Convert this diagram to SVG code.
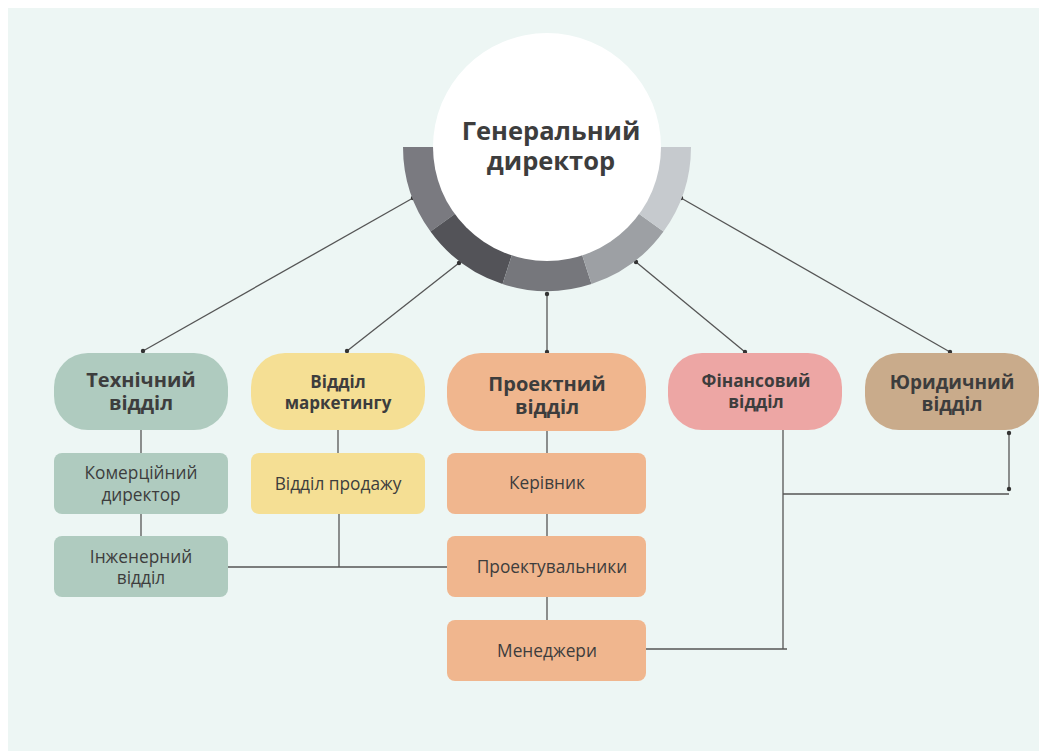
<svg xmlns="http://www.w3.org/2000/svg" width="1039" height="751" viewBox="0 0 1039 751">
<style>
.ln{stroke:#555;stroke-width:1.3;fill:none}
.dot{fill:#333}
.tb{font-family:"Open Sans","Liberation Sans",sans-serif;font-weight:700;fill:#3d3d3d;text-anchor:middle}
.tr{font-family:"Open Sans","Liberation Sans",sans-serif;font-weight:400;fill:#3d3d3d;text-anchor:middle;font-size:17.3px}
.green{fill:#afcbbf}.yellow{fill:#f5df94}.orange{fill:#f0b68e}.pink{fill:#eda6a4}.brown{fill:#c9ab8b}
</style>
<rect width="1039" height="751" fill="#ffffff"/>
<rect x="8" y="8" width="1031" height="743" fill="#edf6f4"/>
<g id="connectors">
<line class="ln" x1="413" y1="198" x2="143" y2="351"/>
<line class="ln" x1="459" y1="263" x2="347" y2="351"/>
<line class="ln" x1="547" y1="294" x2="547" y2="352"/>
<line class="ln" x1="636" y1="262" x2="745" y2="352"/>
<line class="ln" x1="681" y1="198" x2="950" y2="352"/>
<line class="ln" x1="141" y1="430" x2="141" y2="453"/>
<line class="ln" x1="141" y1="514" x2="141" y2="536"/>
<line class="ln" x1="338" y1="430" x2="338" y2="453"/>
<line class="ln" x1="339" y1="514" x2="339" y2="567"/>
<line class="ln" x1="228" y1="567" x2="447" y2="567"/>
<line class="ln" x1="547" y1="431" x2="547" y2="453"/>
<line class="ln" x1="547" y1="514" x2="547" y2="536"/>
<line class="ln" x1="547" y1="597" x2="547" y2="620"/>
<polyline class="ln" points="646,649 787,649"/>
<line class="ln" x1="783" y1="430" x2="783" y2="649"/>
<line class="ln" x1="783" y1="494" x2="1009" y2="494"/>
<line class="ln" x1="1009" y1="433" x2="1009" y2="489"/>
<circle class="dot" cx="413" cy="198" r="2.2"/>
<circle class="dot" cx="143" cy="351" r="2.2"/>
<circle class="dot" cx="459" cy="263" r="2.2"/>
<circle class="dot" cx="347" cy="351" r="2.2"/>
<circle class="dot" cx="547" cy="294" r="2.2"/>
<circle class="dot" cx="547" cy="352" r="2.2"/>
<circle class="dot" cx="636" cy="262" r="2.2"/>
<circle class="dot" cx="745" cy="352" r="2.2"/>
<circle class="dot" cx="681" cy="198" r="2.2"/>
<circle class="dot" cx="950" cy="352" r="2.2"/>
<circle class="dot" cx="1009" cy="433" r="2.2"/>
<circle class="dot" cx="1009" cy="489" r="2.2"/>
</g>
<g id="ceo">
<path d="M403,147 A144,144 0 0 0 430.5,231.6 L458,211.7 A110,110 0 0 1 437,147 Z" fill="#7a7a80"/>
<path d="M430.5,231.6 A144,144 0 0 0 502.5,284 L513,251.6 A110,110 0 0 1 458,211.7 Z" fill="#535358"/>
<path d="M502.5,284 A144,144 0 0 0 591.5,284 L581,251.6 A110,110 0 0 1 513,251.6 Z" fill="#76777c"/>
<path d="M591.5,284 A144,144 0 0 0 663.5,231.6 L636,211.7 A110,110 0 0 1 581,251.6 Z" fill="#9da0a4"/>
<path d="M663.5,231.6 A144,144 0 0 0 691,147 L657,147 A110,110 0 0 1 636,211.7 Z" fill="#c6cace"/>
<circle cx="547" cy="147" r="114" fill="#ffffff"/>
<text class="tb" font-size="25.5"><tspan x="551" y="140">Генеральний</tspan><tspan x="551" y="170">директор</tspan></text>
</g>
<g id="tech">
<rect class="green" x="54" y="353" width="174" height="77" rx="34"/>
<text class="tb" font-size="20"><tspan x="141" y="387">Технічний</tspan><tspan x="141" y="410">відділ</tspan></text>
</g>
<g id="commercial">
<rect class="green" x="54" y="453" width="174" height="61" rx="8"/>
<text class="tr"><tspan x="141" y="479">Комерційний</tspan><tspan x="141" y="501">директор</tspan></text>
</g>
<g id="engineering">
<rect class="green" x="54" y="536" width="174" height="61" rx="8"/>
<text class="tr"><tspan x="141" y="563">Інженерний</tspan><tspan x="141" y="584">відділ</tspan></text>
</g>
<g id="marketing">
<rect class="yellow" x="251" y="353" width="174" height="77" rx="34"/>
<text class="tb" font-size="17"><tspan x="338" y="388">Відділ</tspan><tspan x="338" y="409">маркетингу</tspan></text>
</g>
<g id="sales">
<rect class="yellow" x="251" y="453" width="174" height="61" rx="8"/>
<text class="tr" x="338" y="490">Відділ продажу</text>
</g>
<g id="project">
<rect class="orange" x="447" y="353" width="199" height="78" rx="34"/>
<text class="tb" font-size="20"><tspan x="547" y="391">Проектний</tspan><tspan x="547" y="414">відділ</tspan></text>
</g>
<g id="head">
<rect class="orange" x="447" y="453" width="199" height="61" rx="8"/>
<text class="tr" x="547" y="489">Керівник</text>
</g>
<g id="designers">
<rect class="orange" x="447" y="536" width="199" height="61" rx="8"/>
<text class="tr" x="552" y="573">Проектувальники</text>
</g>
<g id="managers">
<rect class="orange" x="447" y="620" width="199" height="61" rx="8"/>
<text class="tr" x="547" y="657">Менеджери</text>
</g>
<g id="finance">
<rect class="pink" x="668" y="353" width="174" height="77" rx="34"/>
<text class="tb" font-size="17.3"><tspan x="756" y="387">Фінансовий</tspan><tspan x="756" y="408">відділ</tspan></text>
</g>
<g id="legal">
<rect class="brown" x="865" y="353" width="174" height="77" rx="34"/>
<text class="tb" font-size="19"><tspan x="952" y="389">Юридичний</tspan><tspan x="952" y="411">відділ</tspan></text>
</g>
</svg>
